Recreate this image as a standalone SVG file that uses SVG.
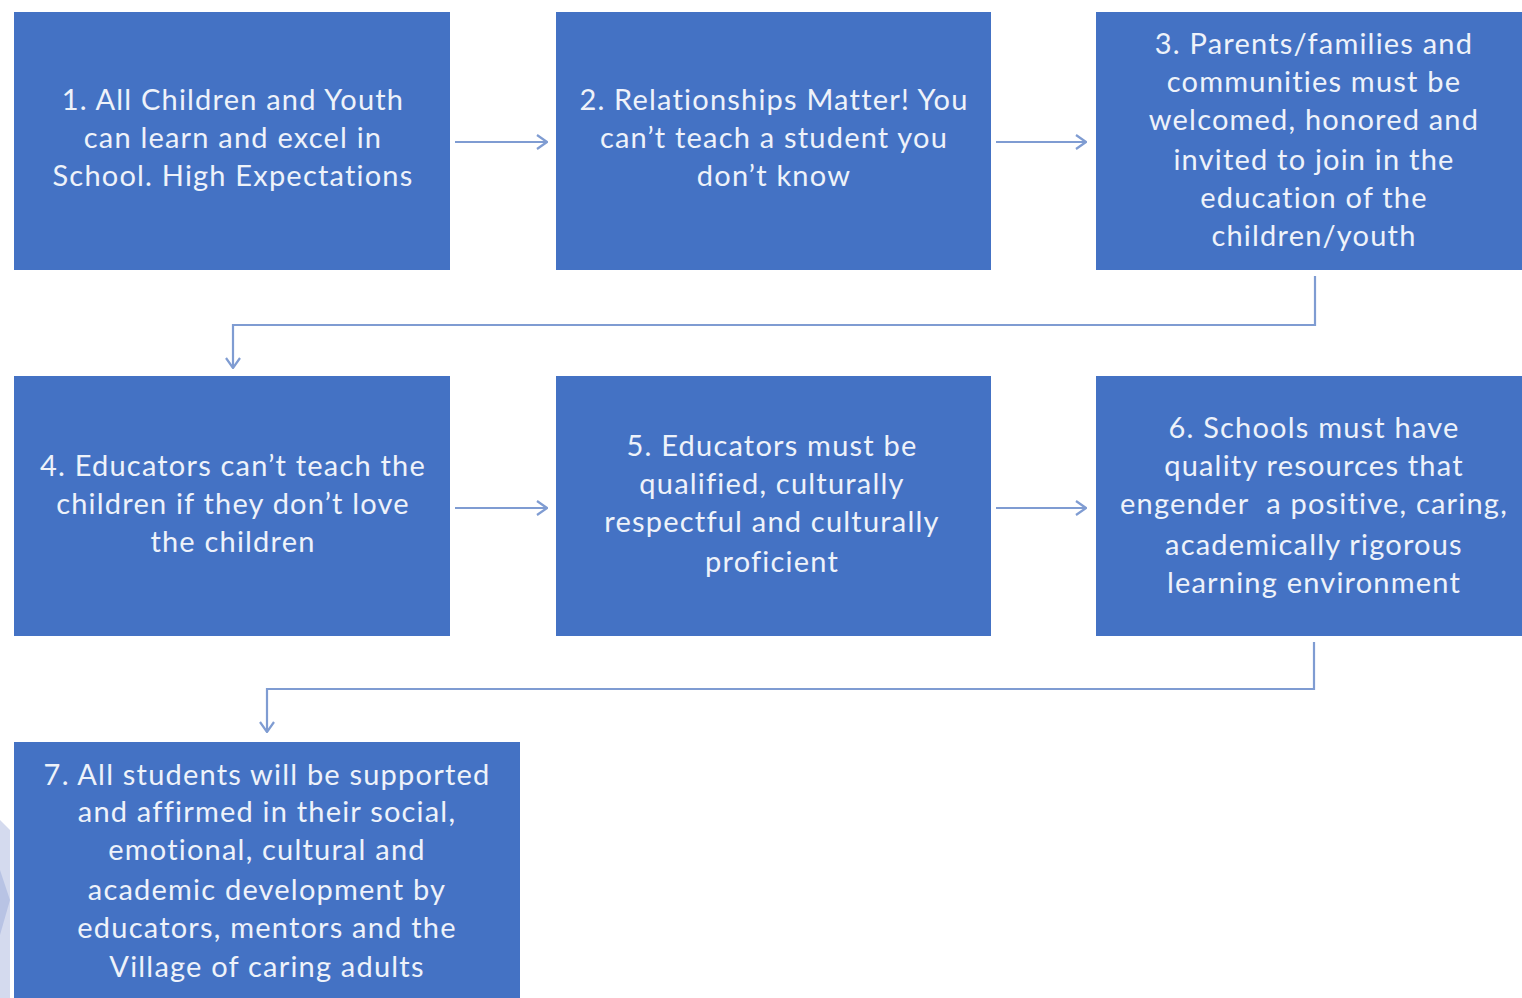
<svg xmlns="http://www.w3.org/2000/svg" width="1522" height="998" viewBox="0 0 1522 998">
<style>
.box{fill:#4472C4;}
.t{font-family:Lato,"Open Sans","Liberation Sans",sans-serif;font-size:29px;letter-spacing:1.2px;fill:#EEF2FA;text-anchor:middle;}
.c{fill:none;stroke:#7F9CD2;stroke-width:2.2;}
</style>
<defs>
<marker id="ah" viewBox="0 0 12 16" refX="11" refY="8" markerWidth="12" markerHeight="16" markerUnits="userSpaceOnUse" orient="auto">
<path d="M1,1 L11,8 L1,15" fill="none" stroke="#7F9CD2" stroke-width="2.2"/>
</marker>
</defs>
<rect width="1522" height="998" fill="#FFFFFF"/>
<polygon points="0,820 10,830 10,998 0,998" fill="#D4DAEE"/>
<polygon points="0,870 10,900 0,935" fill="#B8C3E4"/>
<g id="connectors">
<path class="c" d="M455,142 H547" marker-end="url(#ah)"/>
<path class="c" d="M996,142 H1086" marker-end="url(#ah)"/>
<path class="c" d="M1315,276 V325 H233 V368" marker-end="url(#ah)"/>
<path class="c" d="M455,508 H547" marker-end="url(#ah)"/>
<path class="c" d="M996,508 H1086" marker-end="url(#ah)"/>
<path class="c" d="M1314,642 V689 H267 V732" marker-end="url(#ah)"/>
</g>
<g id="node1">
<rect class="box" x="14" y="12" width="436" height="258"/>
<text class="t"><tspan x="233" y="110">1. All Children and Youth</tspan><tspan x="233" y="148">can learn and excel in</tspan><tspan x="233" y="186">School. High Expectations</tspan></text>
</g>
<g id="node2">
<rect class="box" x="556" y="12" width="435" height="258"/>
<text class="t"><tspan x="774" y="110">2. Relationships Matter! You</tspan><tspan x="774" y="148">can’t teach a student you</tspan><tspan x="774" y="186">don’t know</tspan></text>
</g>
<g id="node3">
<rect class="box" x="1096" y="12" width="440" height="258"/>
<text class="t"><tspan x="1314" y="54">3. Parents/families and</tspan><tspan x="1314" y="92">communities must be</tspan><tspan x="1314" y="130">welcomed, honored and</tspan><tspan x="1314" y="170">invited to join in the</tspan><tspan x="1314" y="208">education of the</tspan><tspan x="1314" y="246">children/youth</tspan></text>
</g>
<g id="node4">
<rect class="box" x="14" y="376" width="436" height="260"/>
<text class="t"><tspan x="233" y="476">4. Educators can’t teach the</tspan><tspan x="233" y="514">children if they don’t love</tspan><tspan x="233" y="552">the children</tspan></text>
</g>
<g id="node5">
<rect class="box" x="556" y="376" width="435" height="260"/>
<text class="t"><tspan x="772" y="456">5. Educators must be</tspan><tspan x="772" y="494">qualified, culturally</tspan><tspan x="772" y="532">respectful and culturally</tspan><tspan x="772" y="572">proficient</tspan></text>
</g>
<g id="node6">
<rect class="box" x="1096" y="376" width="440" height="260"/>
<text class="t" xml:space="preserve"><tspan x="1314" y="438">6. Schools must have</tspan><tspan x="1314" y="476">quality resources that</tspan><tspan x="1314" y="514">engender  a positive, caring,</tspan><tspan x="1314" y="555">academically rigorous</tspan><tspan x="1314" y="593">learning environment</tspan></text>
</g>
<g id="node7">
<rect class="box" x="14" y="742" width="506" height="262"/>
<text class="t"><tspan x="267" y="785">7. All students will be supported</tspan><tspan x="267" y="822">and affirmed in their social,</tspan><tspan x="267" y="860">emotional, cultural and</tspan><tspan x="267" y="900">academic development by</tspan><tspan x="267" y="938">educators, mentors and the</tspan><tspan x="267" y="977">Village of caring adults</tspan></text>
</g>
</svg>
